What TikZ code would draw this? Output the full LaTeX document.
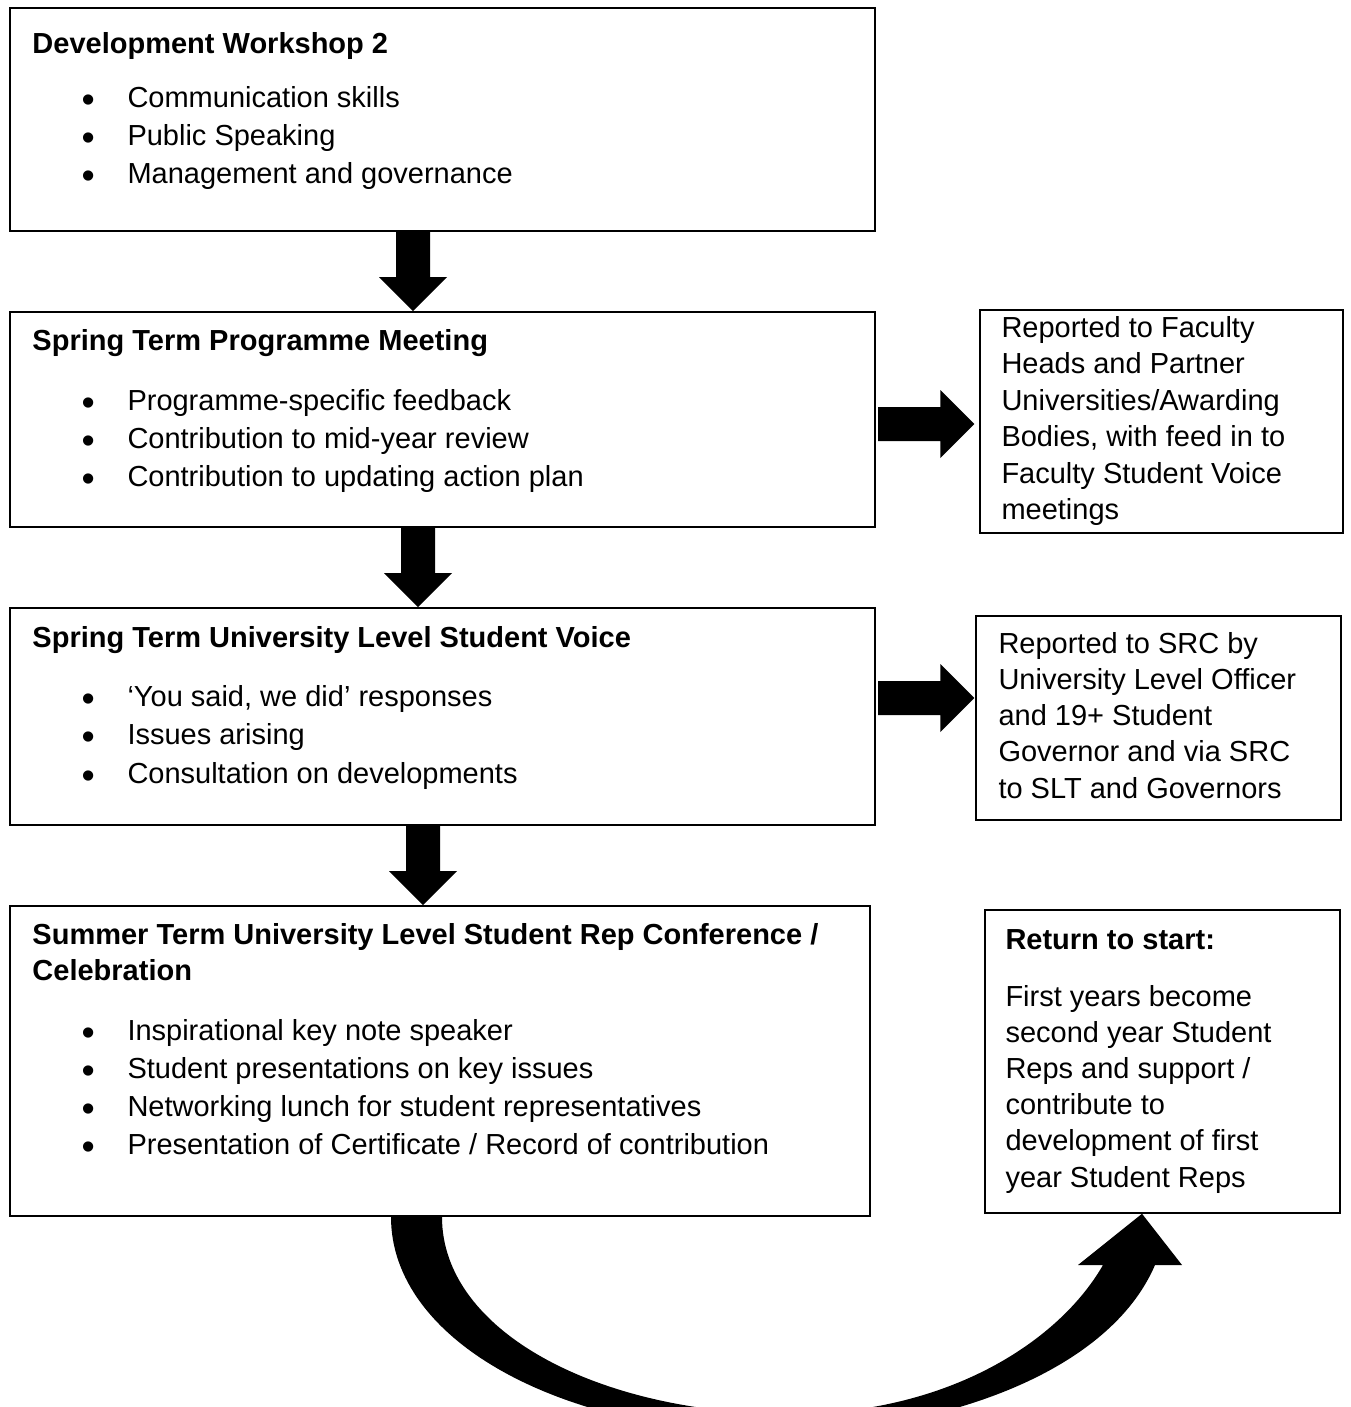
\documentclass[tikz,border=0pt]{standalone}
\usepackage{fontspec}
\setmainfont{Liberation Sans}
\usetikzlibrary{fit,calc}

\tikzset{
  box/.style={draw, line width=0.8pt, inner sep=0pt},
  sidebox/.style={draw, line width=0.6pt, inner sep=0pt},
  txt/.style={anchor=base west, inner sep=0pt, font=\fontsize{11.6}{14}\selectfont},
  headtxt/.style={txt, font=\fontsize{11.6}{14}\selectfont\bfseries},
  blk/.style={fill=black},
}
\newcommand{\bul}{\makebox[18.4pt][l]{\raisebox{-2pt}{\scalebox{1.3}{\textbullet}}}}
% block arrow pointing down: from node, to node, x of centre line
\newcommand{\downblk}[3]{%
  \fill[blk] ($(#1.south -| #3,0)+(-17,0)$) -- ++(34,0)
    -- ($(#2.north -| #3,0)+(17,-34)$) -- ++(17,0)
    -- (#2.north -| #3,0) -- ++(-34,-34) -- ++(17,0) -- cycle;}
% block arrow pointing right: from node, to node, y of centre line, gap at tip
\newcommand{\rightblk}[4]{%
  \fill[blk] ($(#1.east |- 0,#3)+(2,-17)$) -- ++(0,34)
    -- ($(#2.west |- 0,#3)+(-34-#4,17)$) -- ++(0,17)
    -- ($(#2.west |- 0,#3)+(-#4,0)$) -- ++(-34,-34) -- ++(0,17) -- cycle;}

\begin{document}
\begin{tikzpicture}[x=0.4pt, y=-0.4pt]
  \useasboundingbox (0,0) rectangle (1351,1407);

  % main column
  \node[box, fit={(10,8) (875,231)}] (ws2) {};
  \node[box, fit={(10,312) (875,527)}] (spring) {};
  \node[box, fit={(10,608) (875,825)}] (voice) {};
  \node[box, fit={(10,906) (870,1216)}] (summer) {};

  % side column
  \node[sidebox, fit={(980,310) (1343,533)}] (faculty) {};
  \node[sidebox, fit={(976,616) (1341,820)}] (src) {};
  \node[sidebox, fit={(985,910) (1340,1213)}] (restart) {};

  \node[headtxt] (ws2-h) at (32,53) {Development Workshop 2};
  \foreach \entry [count=\i] in {Communication skills, Public Speaking,
      Management and governance}
    \node[txt] (ws2-\i) at (81,{107+38*(\i-1)}) {\bul\entry};

  \node[headtxt] (spring-h) at (32,350) {Spring Term Programme Meeting};
  \foreach \entry [count=\i] in {Programme-specific feedback,
      Contribution to mid-year review, Contribution to updating action plan}
    \node[txt] (spring-\i) at (81,{410+38*(\i-1)}) {\bul\entry};

  \node[headtxt] (voice-h) at (32,647) {Spring Term University Level Student Voice};
  \foreach \entry [count=\i] in {{‘You said, we did’ responses},
      Issues arising, Consultation on developments}
    \node[txt] (voice-\i) at (81,{706+38.5*(\i-1)}) {\bul\entry};

  \node[headtxt] (summer-h) at (32,944)
    {Summer Term University Level Student Rep Conference /};
  \node[headtxt] (summer-h2) at (32,980) {Celebration};
  \foreach \entry [count=\i] in {Inspirational key note speaker,
      Student presentations on key issues,
      Networking lunch for student representatives,
      Presentation of Certificate / Record of contribution}
    \node[txt] (summer-\i) at (81,{1040+38.3*(\i-1)}) {\bul\entry};

  \foreach \entry [count=\i] in {Reported to Faculty, Heads and Partner,
      Universities/Awarding, {Bodies, with feed in to},
      Faculty Student Voice, meetings}
    \node[txt] (faculty-\i) at (1001,{337+36.5*(\i-1)}) {\entry};

  \foreach \entry [count=\i] in {Reported to SRC by, University Level Officer,
      and 19+ Student, Governor and via SRC, to SLT and Governors}
    \node[txt] (src-\i) at (998,{653+36.3*(\i-1)}) {\entry};

  \node[headtxt] (restart-h) at (1005,949) {Return to start:};
  \foreach \entry [count=\i] in {First years become, second year Student,
      Reps and support /, contribute to, development of first,
      year Student Reps}
    \node[txt] (restart-\i) at (1005,{1006+36.2*(\i-1)}) {\entry};

  % arrows
  \downblk{ws2}{spring}{413}
  \downblk{spring}{voice}{418}
  \downblk{voice}{summer}{423}
  \rightblk{spring}{faculty}{424}{5}
  \rightblk{voice}{src}{698}{1}

  \begin{scope}
    \clip (0,0) rectangle (1351,1407);
    \fill[blk] (summer.south -| 391,0) -- (summer.south -| 442,0)
      .. controls (442,1332) and (600,1414) .. (790,1414)
      .. controls (950,1414) and (1060,1340) .. (1103,1265)
      -- (1078,1265) -- (restart.south -| 1142,0) -- (1182,1265) -- (1155,1265)
      .. controls (1110,1370) and (950,1430) .. (780,1434)
      .. controls (560,1434) and (391,1340) .. (summer.south -| 391,0) -- cycle;
  \end{scope}
\end{tikzpicture}
\end{document}
